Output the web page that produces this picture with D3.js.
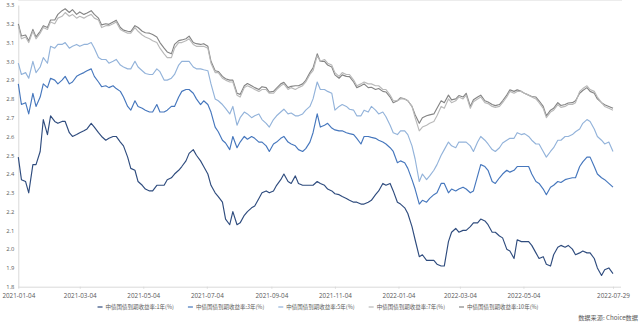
<!DOCTYPE html>
<html>
<head>
<meta charset="utf-8">
<script src="https://cdn.jsdelivr.net/npm/d3@7"></script>
<style>
  html, body { margin: 0; padding: 0; background: #ffffff; }
  svg { display: block; }
  text { font-family: "Noto Sans CJK SC", "Open Sans", sans-serif; }
</style>
</head>
<body>
<svg id="chart" width="640" height="323"></svg>
<script>
// Observation dates: Mondays and Thursdays, ending on the last trading day
const dates = [
  "2021-01-04","2021-01-07","2021-01-11","2021-01-14","2021-01-18","2021-01-21","2021-01-25","2021-01-28",
  "2021-02-01","2021-02-04","2021-02-08","2021-02-11","2021-02-15","2021-02-18","2021-02-22","2021-02-25",
  "2021-03-01","2021-03-04","2021-03-08","2021-03-11","2021-03-15","2021-03-18","2021-03-22","2021-03-25",
  "2021-03-29","2021-04-01","2021-04-05","2021-04-08","2021-04-12","2021-04-15","2021-04-19","2021-04-22",
  "2021-04-26","2021-04-29","2021-05-03","2021-05-06","2021-05-10","2021-05-13","2021-05-17","2021-05-20",
  "2021-05-24","2021-05-27","2021-05-31","2021-06-03","2021-06-07","2021-06-10","2021-06-14","2021-06-17",
  "2021-06-21","2021-06-24","2021-06-28","2021-07-01","2021-07-05","2021-07-08","2021-07-12","2021-07-15",
  "2021-07-19","2021-07-22","2021-07-26","2021-07-29","2021-08-02","2021-08-05","2021-08-09","2021-08-12",
  "2021-08-16","2021-08-19","2021-08-23","2021-08-26","2021-08-30","2021-09-02","2021-09-06","2021-09-09",
  "2021-09-13","2021-09-16","2021-09-20","2021-09-23","2021-09-27","2021-09-30","2021-10-04","2021-10-07",
  "2021-10-11","2021-10-14","2021-10-18","2021-10-21","2021-10-25","2021-10-28","2021-11-01","2021-11-04",
  "2021-11-08","2021-11-11","2021-11-15","2021-11-18","2021-11-22","2021-11-25","2021-11-29","2021-12-02",
  "2021-12-06","2021-12-09","2021-12-13","2021-12-16","2021-12-20","2021-12-23","2021-12-27","2021-12-30",
  "2022-01-03","2022-01-06","2022-01-10","2022-01-13","2022-01-17","2022-01-20","2022-01-24","2022-01-27",
  "2022-01-31","2022-02-03","2022-02-07","2022-02-10","2022-02-14","2022-02-17","2022-02-21","2022-02-24",
  "2022-02-28","2022-03-03","2022-03-07","2022-03-10","2022-03-14","2022-03-17","2022-03-21","2022-03-24",
  "2022-03-28","2022-03-31","2022-04-04","2022-04-07","2022-04-11","2022-04-14","2022-04-18","2022-04-21",
  "2022-04-25","2022-04-28","2022-05-02","2022-05-05","2022-05-09","2022-05-12","2022-05-16","2022-05-19",
  "2022-05-23","2022-05-26","2022-05-30","2022-06-02","2022-06-06","2022-06-09","2022-06-13","2022-06-16",
  "2022-06-20","2022-06-23","2022-06-27","2022-06-30","2022-07-04","2022-07-07","2022-07-11","2022-07-14",
  "2022-07-18","2022-07-21","2022-07-25","2022-07-29"
];

// 中债国债到期收益率 (%)
const yield1Y = [
  2.49,2.37,2.36,2.30,2.45,2.45,2.52,2.69,
  2.61,2.71,2.68,2.67,2.68,2.68,2.62,2.60,
  2.61,2.62,2.63,2.64,2.67,2.65,2.62,2.60,
  2.58,2.59,2.60,2.60,2.57,2.55,2.49,2.43,
  2.42,2.36,2.34,2.32,2.31,2.31,2.34,2.34,
  2.34,2.37,2.38,2.40,2.42,2.44,2.47,2.51,
  2.53,2.50,2.47,2.44,2.40,2.34,2.30,2.28,
  2.25,2.16,2.13,2.20,2.13,2.14,2.18,2.20,
  2.22,2.23,2.27,2.30,2.31,2.30,2.31,2.34,
  2.37,2.40,2.36,2.35,2.39,2.35,2.34,2.34,
  2.34,2.34,2.36,2.35,2.34,2.32,2.31,2.295,
  2.29,2.28,2.27,2.26,2.25,2.25,2.24,2.24,
  2.25,2.26,2.29,2.31,2.35,2.34,2.35,2.31,
  2.25,2.24,2.22,2.19,2.12,2.05,1.96,1.97,
  1.94,1.94,1.94,1.92,1.91,1.91,2.04,2.09,
  2.11,2.09,2.10,2.10,2.12,2.14,2.14,2.16,
  2.15,2.13,2.09,2.09,2.07,2.06,2.00,1.99,
  1.95,2.05,2.04,2.04,2.04,2.02,1.98,1.95,
  1.96,1.92,1.91,1.97,2.01,2.02,2.01,2.02,
  2.00,1.97,1.98,1.99,1.98,1.98,1.95,1.90,
  1.86,1.89,1.90,1.87
];
const yield3Y = [
  2.88,2.77,2.78,2.72,2.83,2.76,2.81,2.88,
  2.86,2.91,2.90,2.88,2.90,2.92,2.88,2.89,
  2.92,2.93,2.94,2.95,2.96,2.92,2.89,2.865,
  2.87,2.86,2.87,2.855,2.84,2.81,2.76,2.74,
  2.79,2.76,2.75,2.74,2.73,2.73,2.77,2.73,
  2.73,2.74,2.76,2.76,2.81,2.84,2.85,2.85,
  2.83,2.80,2.77,2.79,2.77,2.73,2.65,2.625,
  2.58,2.565,2.53,2.60,2.54,2.57,2.60,2.585,
  2.60,2.59,2.57,2.57,2.55,2.52,2.56,2.57,
  2.59,2.60,2.57,2.56,2.55,2.53,2.52,2.535,
  2.57,2.62,2.72,2.65,2.66,2.67,2.645,2.635,
  2.63,2.63,2.62,2.615,2.61,2.59,2.56,2.60,
  2.60,2.595,2.59,2.58,2.57,2.56,2.54,2.52,
  2.46,2.47,2.46,2.43,2.37,2.32,2.24,2.26,
  2.25,2.27,2.29,2.30,2.35,2.35,2.30,2.32,
  2.31,2.32,2.33,2.32,2.30,2.31,2.39,2.45,
  2.44,2.42,2.36,2.35,2.38,2.40,2.42,2.41,
  2.42,2.44,2.44,2.44,2.44,2.40,2.36,2.35,
  2.32,2.29,2.33,2.34,2.36,2.355,2.37,2.375,
  2.38,2.38,2.44,2.465,2.49,2.49,2.44,2.40,
  2.38,2.37,2.35,2.33
];
const yield5Y = [
  2.99,2.93,2.94,2.91,3.00,2.94,2.97,3.02,
  2.99,3.08,3.07,3.09,3.09,3.10,3.07,3.08,
  3.09,3.08,3.09,3.09,3.10,3.07,3.02,3.01,
  3.01,2.99,3.00,3.01,2.98,2.97,2.96,2.96,
  3.00,2.97,2.95,2.935,2.93,2.93,2.96,2.945,
  2.90,2.90,2.91,2.93,2.98,3.00,3.00,3.00,
  2.97,2.96,2.96,2.955,2.95,2.88,2.80,2.79,
  2.77,2.75,2.72,2.76,2.66,2.70,2.73,2.72,
  2.70,2.71,2.72,2.69,2.67,2.65,2.69,2.71,
  2.73,2.745,2.72,2.725,2.71,2.71,2.72,2.74,
  2.76,2.80,2.89,2.85,2.85,2.84,2.83,2.74,
  2.76,2.77,2.76,2.745,2.74,2.71,2.71,2.74,
  2.73,2.76,2.74,2.72,2.73,2.705,2.66,2.62,
  2.61,2.63,2.63,2.61,2.55,2.48,2.36,2.40,
  2.37,2.39,2.42,2.45,2.50,2.53,2.57,2.55,
  2.54,2.57,2.57,2.57,2.55,2.52,2.57,2.60,
  2.58,2.56,2.53,2.52,2.54,2.565,2.58,2.59,
  2.59,2.62,2.61,2.615,2.60,2.58,2.56,2.56,
  2.52,2.49,2.52,2.54,2.58,2.58,2.60,2.60,
  2.61,2.625,2.64,2.67,2.69,2.68,2.64,2.60,
  2.58,2.56,2.57,2.52
];
const yield7Y = [
  3.19,3.12,3.13,3.10,3.16,3.12,3.15,3.18,
  3.17,3.21,3.20,3.23,3.24,3.26,3.24,3.25,
  3.23,3.24,3.23,3.24,3.25,3.23,3.22,3.18,
  3.19,3.19,3.20,3.21,3.17,3.16,3.15,3.15,
  3.18,3.16,3.14,3.13,3.12,3.11,3.10,3.07,
  3.04,3.02,3.02,3.07,3.10,3.10,3.11,3.12,
  3.09,3.08,3.08,3.08,3.07,2.99,2.94,2.94,
  2.91,2.90,2.89,2.89,2.82,2.81,2.86,2.87,
  2.86,2.85,2.84,2.85,2.85,2.83,2.83,2.85,
  2.87,2.88,2.85,2.86,2.85,2.86,2.87,2.89,
  2.93,2.95,3.03,3.00,3.01,2.99,2.98,2.94,
  2.92,2.94,2.93,2.93,2.90,2.87,2.88,2.89,
  2.88,2.88,2.87,2.87,2.85,2.85,2.82,2.79,
  2.79,2.80,2.80,2.79,2.76,2.70,2.63,2.65,
  2.66,2.67,2.68,2.71,2.76,2.75,2.80,2.78,
  2.79,2.81,2.80,2.82,2.75,2.785,2.80,2.81,
  2.78,2.775,2.76,2.755,2.76,2.78,2.81,2.84,
  2.83,2.84,2.84,2.83,2.82,2.81,2.80,2.78,
  2.75,2.70,2.73,2.74,2.77,2.755,2.76,2.77,
  2.77,2.78,2.84,2.855,2.87,2.85,2.84,2.81,
  2.78,2.76,2.75,2.74
];
const yield10Y = [
  3.20,3.135,3.14,3.11,3.17,3.13,3.16,3.19,
  3.18,3.22,3.22,3.25,3.27,3.28,3.26,3.275,
  3.25,3.263,3.25,3.257,3.27,3.25,3.23,3.194,
  3.20,3.197,3.21,3.219,3.18,3.166,3.16,3.158,
  3.19,3.18,3.16,3.152,3.15,3.143,3.13,3.10,
  3.07,3.05,3.04,3.09,3.11,3.114,3.12,3.134,
  3.10,3.094,3.09,3.094,3.08,3.00,2.95,2.946,
  2.92,2.907,2.90,2.90,2.83,2.824,2.87,2.882,
  2.87,2.86,2.85,2.865,2.86,2.836,2.84,2.857,
  2.88,2.888,2.86,2.867,2.87,2.87,2.88,2.899,
  2.94,2.965,3.04,2.999,3.00,2.98,2.97,2.928,
  2.91,2.928,2.92,2.919,2.89,2.86,2.87,2.88,
  2.86,2.862,2.85,2.855,2.84,2.837,2.81,2.78,
  2.79,2.806,2.80,2.79,2.76,2.716,2.67,2.70,
  2.71,2.715,2.72,2.75,2.79,2.78,2.82,2.795,
  2.80,2.818,2.81,2.83,2.76,2.795,2.81,2.82,
  2.79,2.783,2.77,2.764,2.77,2.79,2.82,2.848,
  2.84,2.848,2.84,2.83,2.82,2.813,2.81,2.79,
  2.76,2.71,2.74,2.75,2.78,2.765,2.77,2.778,
  2.78,2.79,2.83,2.845,2.86,2.84,2.83,2.80,
  2.78,2.769,2.76,2.75
];

const seriesNames = [
  "中债国债到期收益率:1年(%)",
  "中债国债到期收益率:3年(%)",
  "中债国债到期收益率:5年(%)",
  "中债国债到期收益率:7年(%)",
  "中债国债到期收益率:10年(%)"
];
const seriesColors = ["#2f4c7e", "#4677bd", "#93b3da", "#b9b9b9", "#858585"];
const yTickValues = [1.8, 1.9, 2.0, 2.1, 2.2, 2.3, 2.4, 2.5, 2.6, 2.7, 2.8, 2.9, 3.0, 3.1, 3.2, 3.3];
const xTickLabels = ["2021-01-04","2021-03-04","2021-05-04","2021-07-04","2021-09-04",
                     "2021-11-04","2022-01-04","2022-03-04","2022-05-04","2022-07-29"];
const sourceText = "数据来源: Choice数据";

const parse = d3.timeParse("%Y-%m-%d");
const dateObjs = dates.map(parse);
const allSeries = [yield1Y, yield3Y, yield5Y, yield7Y, yield10Y];

const svg = d3.select("#chart");
const plotLeft = 18.3, plotRight = 613, plotTop = 5, plotBottom = 286.7;

const x = d3.scaleTime()
  .domain([parse(xTickLabels[0]), parse(xTickLabels[xTickLabels.length - 1])])
  .range([plotLeft, plotRight]);
const y = d3.scaleLinear().domain([1.8, 3.3]).range([plotBottom, plotTop]);

// faint frame line along the top
svg.append("line")
  .attr("x1", plotLeft).attr("x2", 622).attr("y1", 0.5).attr("y2", 0.5)
  .attr("stroke", "#ececec").attr("stroke-width", 1);

// y axis
const yAxis = d3.axisLeft(y).tickValues(yTickValues).tickFormat(d3.format(".1f")).tickSize(0).tickPadding(4);
const gy = svg.append("g").attr("transform", `translate(${plotLeft},0)`).call(yAxis);
gy.select(".domain").attr("stroke", "#d9d9d9");
gy.selectAll("text").attr("fill", "#595959").style("font-size", "5.8px")
  .style("font-family", "'Open Sans', 'Noto Sans', sans-serif");

// x axis
const xAxis = d3.axisBottom(x).tickValues(xTickLabels.map(parse))
  .tickFormat(d3.timeFormat("%Y-%m-%d")).tickSize(2).tickSizeOuter(0).tickPadding(5);
const gx = svg.append("g").attr("transform", `translate(0,${plotBottom})`).call(xAxis);
gx.select(".domain").attr("d", `M${plotLeft},0.5H621`).attr("stroke", "#d9d9d9");
gx.selectAll(".tick line").attr("stroke", "#d9d9d9");
gx.selectAll("text").attr("fill", "#595959").style("font-size", "6.3px")
  .style("font-family", "'Open Sans', 'Noto Sans', sans-serif");

// series lines
const line = d3.line().x((d, i) => x(dateObjs[i])).y(d => y(d));
const drawOrder = [4, 3, 2, 1, 0];
drawOrder.forEach(k => {
  svg.append("path")
    .datum(allSeries[k])
    .attr("fill", "none")
    .attr("stroke", seriesColors[k])
    .attr("stroke-width", 1.15)
    .attr("stroke-linejoin", "round")
    .attr("d", line);
});

// legend
const legend = svg.append("g").attr("transform", "translate(0,307)");
const items = legend.selectAll("g").data(seriesNames).join("g");
items.append("line").attr("x1", 0).attr("x2", 5).attr("y1", 0).attr("y2", 0)
  .attr("stroke", (d, i) => seriesColors[i]).attr("stroke-width", 1.2);
items.append("text").attr("x", 8).attr("y", 2).text(d => d)
  .attr("fill", "#595959").style("font-size", "5.5px");
let widths = [];
items.each(function () { widths.push(8 + d3.select(this).select("text").node().getComputedTextLength()); });
const gap = 14;
const total = d3.sum(widths) + gap * (widths.length - 1);
let cx = 318 - total / 2;
items.attr("transform", (d, i) => { const t = `translate(${cx},0)`; cx += widths[i] + gap; return t; });

// source note
svg.append("text").attr("x", 638).attr("y", 320).attr("text-anchor", "end")
  .attr("fill", "#595959").style("font-size", "6.2px").text(sourceText);
</script>
</body>
</html>
